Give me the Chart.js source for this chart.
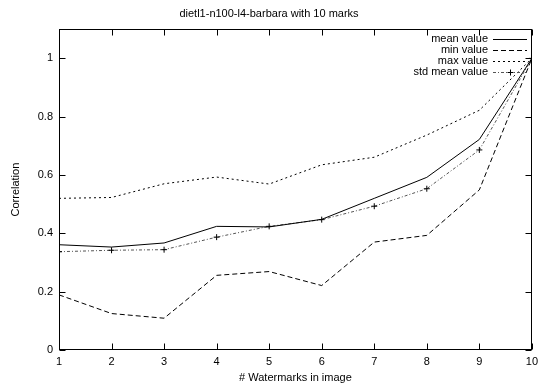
<!DOCTYPE html>
<html>
<head>
<meta charset="utf-8">
<script src="https://cdn.jsdelivr.net/npm/chart.js@4/dist/chart.umd.min.js"></script>
<style>
  body { margin: 0; background: #fff; }
  #chart { display: block; }
</style>
</head>
<body>
<canvas id="chart" width="543" height="383"></canvas>
<script>
// Data
const watermarks = [1, 2, 3, 4, 5, 6, 7, 8, 9, 10];
const meanValue = [0.361, 0.353, 0.367, 0.424, 0.422, 0.448, 0.52, 0.592, 0.722, 1.0];
const minValue = [0.189, 0.125, 0.109, 0.256, 0.269, 0.221, 0.37, 0.393, 0.549, 1.0];
const maxValue = [0.52, 0.523, 0.57, 0.593, 0.569, 0.635, 0.661, 0.737, 0.822, 1.0];
const stdMeanValue = [0.337, 0.342, 0.344, 0.387, 0.424, 0.447, 0.493, 0.553, 0.686, 1.0];
const yTicks = [0, 0.2, 0.4, 0.6, 0.8, 1];

const FONT = 'Liberation Sans, Arial, Helvetica, sans-serif';

const toPoints = vals => vals.map((v, i) => ({ x: watermarks[i], y: v }));

const series = [
  { label: 'mean value', data: meanValue, color: '#000', dash: [], marker: false },
  { label: 'min value', data: minValue, color: '#000', dash: [5, 3], marker: false },
  { label: 'max value', data: maxValue, color: '#000', dash: [2, 3], marker: false },
  { label: 'std mean value', data: stdMeanValue, color: '#555', dash: [3, 2, 1, 2], marker: true }
];

// --- gnuplot style frame: full box with inward ticks on every side ---
const gnuplotFrame = {
  id: 'gnuplotFrame',
  afterDatasetsDraw(chart) {
    const { ctx, chartArea: a, scales: { x, y } } = chart;
    const L = Math.round(a.left) + 0.5, R = Math.round(a.right) - 0.5;
    const T = Math.round(a.top) + 0.5, B = Math.round(a.bottom) - 0.5;
    ctx.save();
    ctx.strokeStyle = '#000';
    ctx.lineWidth = 1;
    ctx.setLineDash([]);
    ctx.strokeRect(L, T, R - L, B - T);
    ctx.beginPath();
    watermarks.forEach(v => {
      const px = Math.round(x.getPixelForValue(v)) + 0.5;
      ctx.moveTo(px, B); ctx.lineTo(px, B - 6);
      ctx.moveTo(px, T); ctx.lineTo(px, T + 6);
    });
    yTicks.forEach(v => {
      const py = Math.round(y.getPixelForValue(v)) + 0.5;
      ctx.moveTo(L, py); ctx.lineTo(L + 6, py);
      ctx.moveTo(R, py); ctx.lineTo(R - 6, py);
    });
    ctx.stroke();
    ctx.restore();
  },
  afterDraw(chart) {
    // legend, top right inside the plot
    const { ctx } = chart;
    ctx.save();
    ctx.font = '11px ' + FONT;
    ctx.fillStyle = '#000';
    ctx.textAlign = 'right';
    ctx.textBaseline = 'middle';
    series.forEach((s, i) => {
      const yy = 39 + i * 11;
      ctx.fillText(s.label, 488, yy);
      ctx.strokeStyle = s.color;
      ctx.lineWidth = 1;
      ctx.setLineDash(s.dash);
      ctx.beginPath();
      ctx.moveTo(493, yy + 0.5);
      ctx.lineTo(527, yy + 0.5);
      ctx.stroke();
      if (s.marker) {
        ctx.setLineDash([]);
        ctx.strokeStyle = '#000';
        ctx.beginPath();
        ctx.moveTo(510.5, yy - 2.5); ctx.lineTo(510.5, yy + 3.5);
        ctx.moveTo(507.5, yy + 0.5); ctx.lineTo(513.5, yy + 0.5);
        ctx.stroke();
      }
    });
    ctx.restore();
  }
};

new Chart(document.getElementById('chart'), {
  type: 'line',
  data: {
    datasets: series.map(s => ({
      label: s.label,
      data: toPoints(s.data),
      borderColor: s.color,
      borderWidth: 1,
      borderDash: s.dash,
      tension: 0,
      fill: false,
      pointStyle: 'cross',
      pointRadius: s.marker ? 3 : 0,
      pointBorderColor: '#000',
      pointBorderWidth: 1
    }))
  },
  options: {
    responsive: false,
    animation: false,
    layout: { autoPadding: false, padding: { left: 0, right: 5, top: 0, bottom: 0 } },
    plugins: {
      legend: { display: false },
      tooltip: { enabled: false },
      title: {
        display: true,
        text: 'dietl1-n100-l4-barbara with 10 marks',
        color: '#000',
        font: { family: FONT, size: 11, weight: 'normal' },
        padding: { top: 7, bottom: 9 }
      }
    },
    scales: {
      x: {
        type: 'linear',
        min: 1,
        max: 10,
        afterBuildTicks: scale => { scale.ticks = watermarks.map(v => ({ value: v })); },
        afterFit: scale => { scale.height = 33; },
        grid: { display: false, drawTicks: false },
        border: { display: false },
        ticks: { color: '#000', padding: 5, maxRotation: 0, autoSkip: false, font: { family: FONT, size: 11 } },
        title: {
          display: true,
          text: '# Watermarks in image',
          color: '#000',
          font: { family: FONT, size: 11, lineHeight: 1 },
          padding: { top: 0, bottom: 0 }
        }
      },
      y: {
        min: 0,
        max: 1.1,
        afterBuildTicks: scale => { scale.ticks = yTicks.map(v => ({ value: v })); },
        afterFit: scale => { scale.width = 59; },
        grid: { display: false, drawTicks: false },
        border: { display: false },
        ticks: { color: '#000', padding: 6, font: { family: FONT, size: 11 }, callback: v => String(+v.toFixed(1)) },
        title: {
          display: true,
          text: 'Correlation',
          color: '#000',
          font: { family: FONT, size: 11, lineHeight: 1.2 },
          padding: { top: 9, bottom: 0 }
        }
      }
    }
  },
  plugins: [gnuplotFrame]
});
</script>
</body>
</html>
